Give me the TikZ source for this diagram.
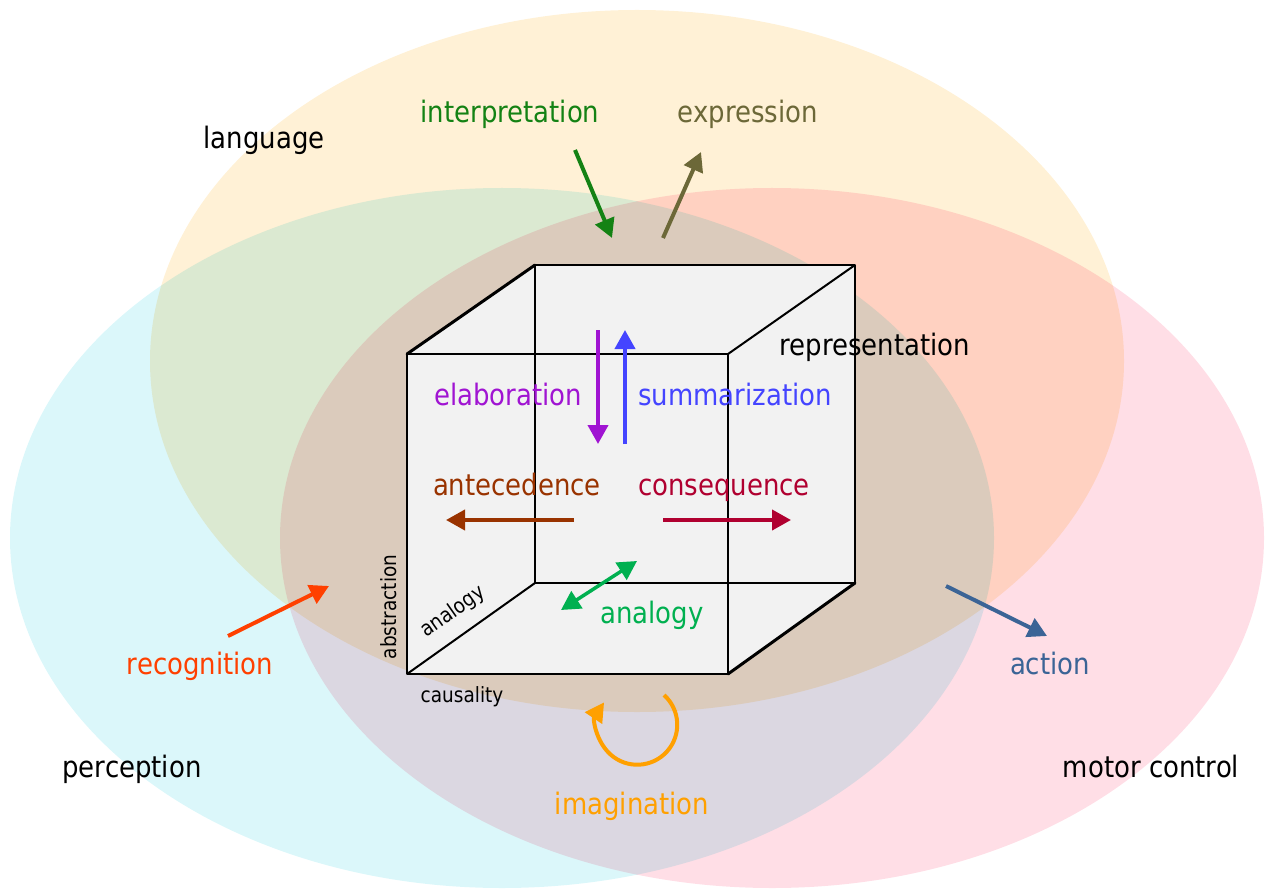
\documentclass[tikz,border=0pt]{standalone}
\usepackage{fontspec}
\setmainfont{DejaVu Sans}[FakeStretch=0.88]
\usepackage{tikz}
\usetikzlibrary{arrows.meta,positioning}
\definecolor{langfill}{RGB}{255,241,214}
\definecolor{percfill}{RGB}{219,247,250}
\definecolor{motorfill}{RGB}{255,222,230}
\definecolor{cubefill}{RGB}{242,242,242}
\definecolor{interpcol}{RGB}{20,130,20}
\definecolor{exprcol}{RGB}{108,104,56}
\definecolor{elabcol}{RGB}{160,20,210}
\definecolor{summcol}{RGB}{68,68,255}
\definecolor{antecol}{RGB}{153,51,0}
\definecolor{conscol}{RGB}{176,0,48}
\definecolor{analcol}{RGB}{0,176,80}
\definecolor{recogcol}{RGB}{255,64,0}
\definecolor{actcol}{RGB}{59,100,150}
\definecolor{imagcol}{RGB}{255,160,0}

\begin{document}
\begin{tikzpicture}[x=1pt,y=-1pt,
    lbl/.style={anchor=base,font=\fontsize{29.5}{32}\selectfont},
    axislbl/.style={inner sep=0.5pt,font=\fontsize{21}{23}\selectfont},
    flow/.style={line width=4pt,-{Triangle[length=19pt,width=20pt]}},
    cubeedge/.style={line width=2pt,line join=round},
    cubediag/.style={line width=3pt,line cap=round}]
  \useasboundingbox (0,0) rectangle (1265,890);

  % the three overlapping fields
  \begin{scope}[blend mode=multiply]
    \fill[percfill] (502,538) ellipse[x radius=492,y radius=350];
    \fill[motorfill] (772,538) ellipse[x radius=492,y radius=350];
    \fill[langfill] (637,361) ellipse[x radius=487,y radius=351];
  \end{scope}

  % cube corners: front face f, back face b
  \coordinate (f1) at (407,354); \coordinate (f2) at (728,354);
  \coordinate (f3) at (728,674); \coordinate (f4) at (407,674);
  \coordinate (b1) at (535,265); \coordinate (b2) at (855,265);
  \coordinate (b3) at (855,583); \coordinate (b4) at (535,583);

  \fill[cubefill] (f4) -- (f1) -- (b1) -- (b2) -- (b3) -- (f3) -- cycle;
  \draw[cubeedge] (b1) -- (b2) -- (b3) -- (b4) -- cycle;
  \draw[cubeedge] (f1) -- (f2) -- (f3) -- (f4) -- cycle;
  \draw[cubediag] (f1) -- (b1);
  \draw[cubediag] (f3) -- (b3);
  \draw[cubeedge] (f2) -- (b2);
  \draw[cubeedge] (f4) -- (b4);

  % axis labels
  \node[axislbl,rotate=90,anchor=south] (abstr) at (397,607) {abstraction};
  \node[axislbl,rotate=35] (diaglbl) at (453,612) {analogy};
  \node[axislbl] (caus) at (462,697) {causality};

  % field names
  \node[lbl] (lang) at (264,149) {language};
  \node[lbl] (perc) at (132,777) {perception};
  \node[lbl] (motor) at (1151,777) {motor control};
  \node[lbl] (repr) at (875,355) {representation};

  % operations
  \node[lbl,text=interpcol] (interp) at (510,123) {interpretation};
  \node[lbl,text=exprcol] (expr) at (748,123) {expression};
  \node[lbl,text=elabcol] (elab) at (508,405) {elaboration};
  \node[lbl,text=summcol] (summ) at (735,405) {summarization};
  \node[lbl,text=antecol] (ante) at (517,495) {antecedence};
  \node[lbl,text=conscol] (cons) at (724,495) {consequence};
  \node[lbl,text=analcol] (anal) at (652,623) {analogy};
  \node[lbl,text=recogcol] (recog) at (200,674) {recognition};
  \node[lbl,text=actcol] (act) at (1050,674) {action};
  \node[lbl,text=imagcol] (imag) at (632,814) {imagination};

  % arrow ends
  \coordinate (interp-a) at (575,150); \coordinate (interp-b) at (612,238);
  \coordinate (expr-a) at (663,238);   \coordinate (expr-b) at (701,152);
  \coordinate (elab-a) at (598,330);   \coordinate (elab-b) at (598,444);
  \coordinate (summ-a) at (625,444);   \coordinate (summ-b) at (625,330);
  \coordinate (ante-a) at (574,520);   \coordinate (ante-b) at (446,520);
  \coordinate (cons-a) at (663,520);   \coordinate (cons-b) at (791,520);
  \coordinate (anal-a) at (561,610);   \coordinate (anal-b) at (637,561);
  \coordinate (recog-a) at (228,636);  \coordinate (recog-b) at (329,586);
  \coordinate (act-a) at (946,586);    \coordinate (act-b) at (1047,636);
  \coordinate (imag-a) at (664,695);

  \draw[flow,interpcol] (interp-a) -- (interp-b);
  \draw[flow,exprcol] (expr-a) -- (expr-b);
  \draw[flow,elabcol] (elab-a) -- (elab-b);
  \draw[flow,summcol] (summ-a) -- (summ-b);
  \draw[flow,antecol] (ante-a) -- (ante-b);
  \draw[flow,conscol] (cons-a) -- (cons-b);
  \draw[line width=3.5pt,analcol,{Triangle[length=19pt,width=20pt]}-{Triangle[length=19pt,width=20pt]}] (anal-a) -- (anal-b);
  \draw[flow,recogcol] (recog-a) -- (recog-b);
  \draw[flow,actcol] (act-a) -- (act-b);
  \draw[flow,imagcol] (imag-a) arc[start angle=-48,end angle=214,radius=40];
\end{tikzpicture}
\end{document}
